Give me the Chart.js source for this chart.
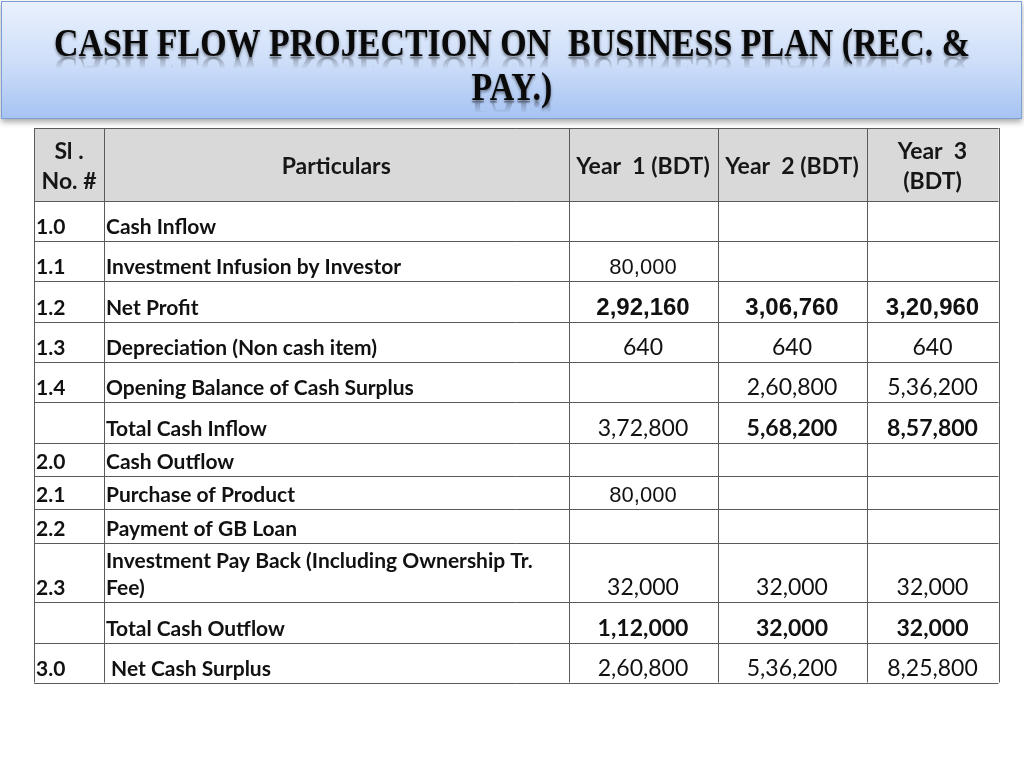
<!DOCTYPE html>
<html>
<head>
<meta charset="utf-8">
<script src="https://cdn.jsdelivr.net/npm/chart.js@4.4.1/dist/chart.umd.min.js"></script>
<style>
  html, body { margin: 0; padding: 0; background: #ffffff; }
  #wrap { position: relative; width: 1024px; height: 768px; }
</style>
</head>
<body>
<div id="wrap"><canvas id="tableChart" width="1024" height="768"></canvas></div>
<script>
// Table content
const titleLines = ['CASH FLOW PROJECTION ON  BUSINESS PLAN (REC. &', 'PAY.)'];
const headSerial = ['Sl .', 'No. #'];
const headParticulars = ['Particulars'];
const yearLabels = [['Year  1 (BDT)'], ['Year  2 (BDT)'], ['Year  3', '(BDT)']];

const serials = ['1.0', '1.1', '1.2', '1.3', '1.4', '', '2.0', '2.1', '2.2', '2.3', '', '3.0'];
const particulars = [
    ['Cash Inflow'],
    ['Investment Infusion by Investor'],
    ['Net Profit'],
    ['Depreciation (Non cash item)'],
    ['Opening Balance of Cash Surplus'],
    ['Total Cash Inflow'],
    ['Cash Outflow'],
    ['Purchase of Product'],
    ['Payment of GB Loan'],
    ['Investment Pay Back (Including Ownership Tr.', 'Fee)'],
    ['Total Cash Outflow'],
    [' Net Cash Surplus']
];
const year1 = [null, 80000, 292160, 640, null, 372800, null, 80000, null, 32000, 112000, 260800];
const year2 = [null, null, 306760, 640, 260800, 568200, null, null, null, 32000, 32000, 536200];
const year3 = [null, null, 320960, 640, 536200, 857800, null, null, null, 32000, 32000, 825800];

// Layout (canvas units, mapped through the chart scales)
const colEdges = [34, 104, 568.5, 717.5, 866.5, 998.5];
const rowEdges = [128, 201, 241, 281, 321.5, 362, 402, 442.5, 476, 509, 542.5, 602, 642.5, 682.5];

const BODY = '"Lato", "Open Sans", sans-serif';
const ARIAL = '"Liberation Sans", Arial, sans-serif';

// per-cell styling
function valueFont(row, col) {
    if (row === 2) return 'bold 24px ' + ARIAL;
    if ((row === 1 || row === 7) && col === 0) return '22px ' + ARIAL;
    if (row === 10) return 'bold 23px ' + BODY;
    if (row === 5 && col > 0) return 'bold 23px ' + BODY;
    return '23px ' + BODY;
}

// Indian digit grouping: 2,92,160
function fmtIN(v) {
    const s = String(v);
    if (s.length <= 3) return s;
    let head = s.slice(0, -3);
    const tail = s.slice(-3);
    const parts = [];
    while (head.length > 2) {
        parts.unshift(head.slice(-2));
        head = head.slice(0, -2);
    }
    if (head) parts.unshift(head);
    return parts.join(',') + ',' + tail;
}

const tablePlugin = {
    id: 'tableDraw',
    beforeDraw(chart) {
        const ctx = chart.ctx;
        const xs = chart.scales.x;
        const ys = chart.scales.y;
        const px = v => xs.getPixelForValue(v);
        const py = v => ys.getPixelForValue(v);

        ctx.save();
        ctx.fillStyle = '#ffffff';
        ctx.fillRect(0, 0, chart.width, chart.height);

        // title banner
        const bTop = py(1), bBot = py(119);
        ctx.save();
        ctx.shadowColor = 'rgba(0,0,0,0.35)';
        ctx.shadowBlur = 6;
        ctx.shadowOffsetY = 3;
        const grad = ctx.createLinearGradient(0, bTop, 0, bBot);
        grad.addColorStop(0, '#eaf1fd');
        grad.addColorStop(0.5, '#cfdff9');
        grad.addColorStop(1, '#a6c3f3');
        ctx.fillStyle = grad;
        ctx.fillRect(px(1), bTop, px(1022) - px(1), bBot - bTop);
        ctx.restore();
        ctx.strokeStyle = '#7c9fd6';
        ctx.lineWidth = 1;
        ctx.strokeRect(px(1) + 0.5, bTop + 0.5, px(1022) - px(1) - 1, bBot - bTop - 1);

        ctx.font = 'bold 40px "Liberation Serif", "Times New Roman", serif';
        ctx.textAlign = 'center';
        ctx.textBaseline = 'alphabetic';
        const sx = (px(970) - px(54)) / ctx.measureText(titleLines[0]).width;
        const titleBase = [56, 100];
        titleLines.forEach((t, i) => {
            const by = py(titleBase[i]);
            const cx = px(512);
            // faded reflection under the letters
            ctx.save();
            ctx.beginPath();
            ctx.rect(0, by, chart.width, 12);
            ctx.clip();
            ctx.translate(cx, by * 2 + 1);
            ctx.scale(sx, -1);
            const rg = ctx.createLinearGradient(0, by, 0, by - 12);
            rg.addColorStop(0, 'rgba(0,0,0,0.28)');
            rg.addColorStop(1, 'rgba(0,0,0,0)');
            ctx.fillStyle = rg;
            ctx.fillText(t, 0, by);
            ctx.restore();
            ctx.save();
            ctx.translate(cx, 0);
            ctx.scale(sx, 1);
            ctx.shadowColor = 'rgba(0,0,0,0.45)';
            ctx.shadowBlur = 3;
            ctx.shadowOffsetY = 2;
            ctx.fillStyle = '#0a0a0a';
            ctx.fillText(t, 0, by);
            ctx.restore();
        });

        // header background
        ctx.fillStyle = '#d9d9d9';
        ctx.fillRect(px(colEdges[0]), py(rowEdges[0]), px(colEdges[5]) - px(colEdges[0]), py(rowEdges[1]) - py(rowEdges[0]));

        // header text
        ctx.fillStyle = '#161616';
        ctx.font = 'bold 23px ' + BODY;
        ctx.textAlign = 'center';
        ctx.textBaseline = 'middle';
        const hMid = (rowEdges[0] + rowEdges[1]) / 2 + 2;
        const headCells = [headSerial, headParticulars].concat(yearLabels);
        headCells.forEach((lines, c) => {
            const cx = px((colEdges[c] + colEdges[c + 1]) / 2);
            lines.forEach((t, k) => {
                const off = (k - (lines.length - 1) / 2) * 30;
                ctx.fillText(t, cx, py(hMid + off));
            });
        });

        // body rows
        ctx.textBaseline = 'alphabetic';
        const years = [year1, year2, year3];
        serials.forEach((s, r) => {
            const bottom = rowEdges[r + 2];
            const base = py(bottom - 7);
            ctx.fillStyle = '#111111';
            ctx.textAlign = 'left';
            ctx.font = 'bold 21px ' + BODY;
            if (s) ctx.fillText(s, px(colEdges[0] + 2), base);
            const lines = particulars[r];
            lines.forEach((t, k) => {
                const off = (lines.length - 1 - k) * 27;
                ctx.fillText(t, px(colEdges[1] + 2), py(bottom - 7 - off));
            });
            ctx.textAlign = 'center';
            years.forEach((arr, c) => {
                const v = arr[r];
                if (v === null) return;
                ctx.font = valueFont(r, c);
                const cx = px((colEdges[c + 2] + colEdges[c + 3]) / 2);
                ctx.fillText(fmtIN(v), cx, base);
            });
        });

        // grid lines
        ctx.strokeStyle = '#5a5a5a';
        ctx.lineWidth = 1;
        ctx.beginPath();
        rowEdges.forEach(y => {
            const yy = Math.round(py(y)) + 0.5;
            ctx.moveTo(px(colEdges[0]), yy);
            ctx.lineTo(px(colEdges[5]), yy);
        });
        colEdges.forEach(x => {
            const xx = Math.round(px(x)) + 0.5;
            ctx.moveTo(xx, py(rowEdges[0]));
            ctx.lineTo(xx, py(rowEdges[rowEdges.length - 1]));
        });
        ctx.stroke();
        ctx.restore();
    }
};

new Chart(document.getElementById('tableChart').getContext('2d'), {
    type: 'scatter',
    data: { datasets: [{ data: [] }] },
    options: {
        responsive: false,
        animation: false,
        events: [],
        layout: { padding: 0 },
        plugins: { legend: { display: false }, tooltip: { enabled: false }, title: { display: false } },
        scales: {
            x: { type: 'linear', min: 0, max: 1024, display: false },
            y: { type: 'linear', min: 0, max: 768, reverse: true, display: false }
        }
    },
    plugins: [tablePlugin]
});
</script>
</body>
</html>
